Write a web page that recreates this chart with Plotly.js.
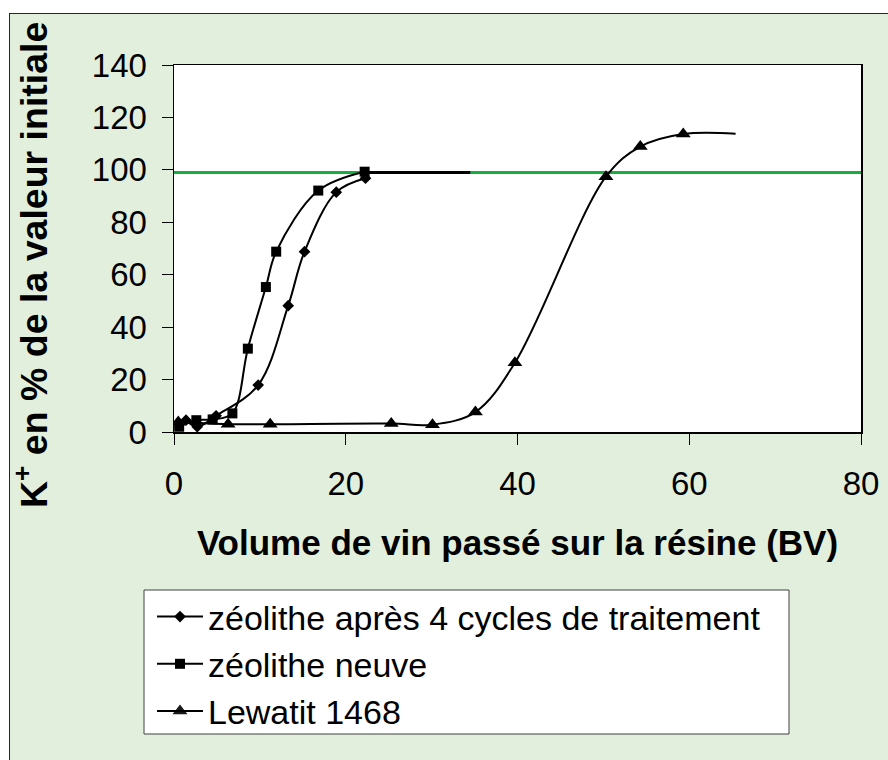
<!DOCTYPE html>
<html>
<head>
<meta charset="utf-8">
<script src="https://cdn.plot.ly/plotly-3.0.1.min.js"></script>
<style>
  html, body { margin: 0; padding: 0; width: 888px; height: 760px; overflow: hidden; background: #ffffff; }
  #frame { position: absolute; left: 9px; top: 13px; width: 900px; height: 800px;
           border: 1px solid #262626; background: #e3efdd; }
  #chart { position: absolute; left: 0; top: 0; width: 888px; height: 760px; }
</style>
</head>
<body>
<div id="frame"></div>
<div id="chart"></div>
<script>
// Series: zéolithe après 4 cycles de traitement (diamonds)
const cyclesX = [1.4, 2.7, 4.9, 9.8, 13.3, 15.2, 18.9, 22.3];
const cyclesY = [4.5, 2.0, 6.2, 17.9, 48.2, 68.8, 91.5, 96.8];

// Series: zéolithe neuve (squares)
const neuveX = [0.6, 2.6, 4.5, 6.8, 8.6, 10.7, 11.9, 16.8, 22.2];
const neuveY = [2.0, 4.5, 4.8, 7.1, 31.8, 55.3, 68.8, 92.1, 99.3];

// Series: Lewatit 1468 (triangles); last point has no visible marker
const lewX = [0.5, 6.3, 11.2, 25.3, 30.1, 35.1, 39.7, 50.3, 54.3, 59.3, 65.4];
const lewY = [3.8, 3.0, 3.0, 3.2, 2.8, 7.6, 26.4, 97.4, 108.9, 113.7, 113.8];
const lewMarked = [true, true, true, true, true, true, true, true, true, true, false];

// Flat black plateau segment and the green 100 % reference level
const plateauX = [22.2, 34.5];
const refLevel = 99;

// Labels
const seriesNames = ['zéolithe après 4 cycles de traitement', 'zéolithe neuve', 'Lewatit 1468'];
const xTitle = 'Volume de vin passé sur la résine (BV)';
const yTitle = 'K<sup>+</sup> en % de la valeur initiale';
const xTicks = [0, 20, 40, 60, 80];
const yTicks = [0, 20, 40, 60, 80, 100, 120, 140];

const FONT = "'Liberation Sans', Arial, sans-serif";
const lineStyle = {color: '#000000', width: 2, shape: 'spline', smoothing: 1};

const traces = [
  {
    x: cyclesX, y: cyclesY, name: seriesNames[0], type: 'scatter', mode: 'lines+markers',
    line: lineStyle, marker: {symbol: 'diamond', size: 9, color: '#000000'}
  },
  {
    x: neuveX, y: neuveY, name: seriesNames[1], type: 'scatter', mode: 'lines+markers',
    line: lineStyle, marker: {symbol: 'square', size: 10, color: '#000000'}
  },
  {
    x: lewX, y: lewY, name: seriesNames[2], type: 'scatter', mode: 'lines+markers',
    line: lineStyle,
    marker: {symbol: 'triangle-up', size: 13, color: '#000000', opacity: lewMarked.map(m => m ? 1 : 0)}
  },
  {
    x: plateauX, y: plateauX.map(() => refLevel), type: 'scatter', mode: 'lines',
    line: {color: '#000000', width: 3}, showlegend: false, hoverinfo: 'skip'
  }
];

const plotL = 174, plotR = 861, plotT = 65, plotB = 432;
const W = 888, H = 760;
const pw = plotR - plotL, ph = plotB - plotT;
const px = v => (v - plotL) / pw;
const py = v => (plotB - v) / ph;

const layout = {
  width: W, height: H,
  margin: {l: plotL, r: W - plotR, t: plotT, b: H - plotB, pad: 0},
  paper_bgcolor: 'rgba(0,0,0,0)',
  plot_bgcolor: '#ffffff',
  font: {family: FONT, color: '#000000'},
  showlegend: true,
  xaxis: {
    range: [0, 80], tickvals: xTicks, ticks: 'outside', ticklen: 11, tickwidth: 1, tickcolor: '#000000',
    showline: true, linecolor: '#000000', linewidth: 1.5, mirror: true,
    showgrid: false, zeroline: false,
    tickfont: {family: FONT, size: 33, color: '#000000'},
    ticklabelstandoff: 11,
    title: {text: xTitle, font: {family: FONT, size: 35, color: '#000000', weight: 'bold'}, standoff: 29}
  },
  yaxis: {
    range: [0, 140], tickvals: yTicks, ticks: 'outside', ticklen: 11, tickwidth: 1, tickcolor: '#000000',
    showline: true, linecolor: '#000000', linewidth: 1.5, mirror: true,
    showgrid: false, zeroline: false,
    tickfont: {family: FONT, size: 33, color: '#000000'},
    ticklabelstandoff: 8
  },
  annotations: [
    {text: yTitle, textangle: -90, xref: 'paper', yref: 'paper', x: px(31), y: py(265),
     xanchor: 'center', yanchor: 'middle', showarrow: false,
     font: {family: FONT, size: 37.5, color: '#000000', weight: 'bold'}}
  ],
  legend: {
    x: px(152), y: py(588), xanchor: 'left', yanchor: 'top',
    bgcolor: 'rgba(0,0,0,0)', borderwidth: 0,
    font: {family: FONT, size: 34, color: '#000000'},
    itemwidth: 46
  },
  shapes: [
    {type: 'line', xref: 'paper', x0: 0, x1: 1, yref: 'y', y0: refLevel, y1: refLevel,
     line: {color: '#16ae3c', width: 3}, layer: 'below'},
    {type: 'rect', xref: 'paper', yref: 'paper', x0: px(144), x1: px(789), y0: py(734), y1: py(590),
     fillcolor: '#ffffff', line: {color: '#404040', width: 1}, layer: 'below'}
  ]
};

Plotly.newPlot('chart', traces, layout, {displayModeBar: false, staticPlot: true});
</script>
</body>
</html>
